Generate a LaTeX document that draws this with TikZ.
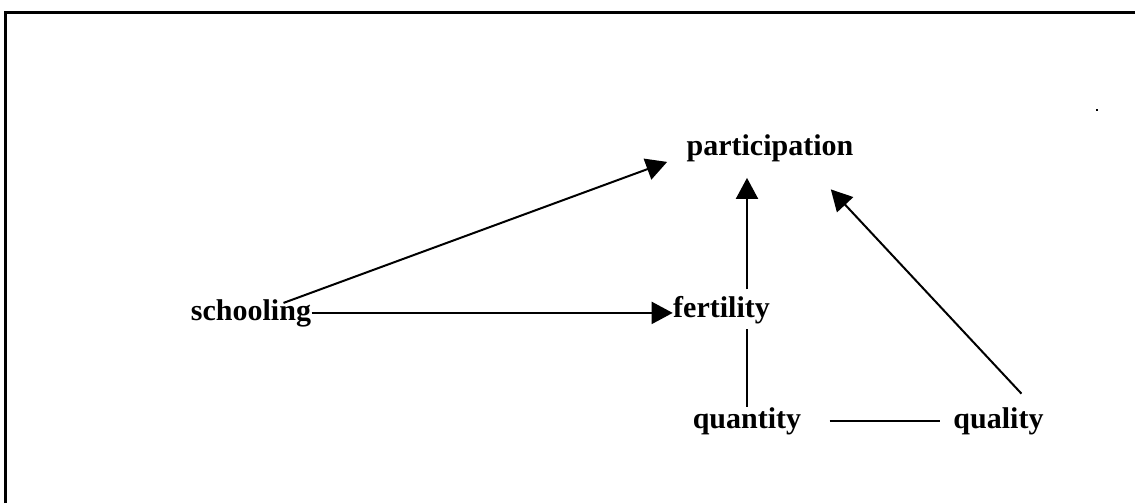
\documentclass[tikz,border=0pt]{standalone}
\usepackage{fontspec}
\setmainfont{Liberation Serif}
\usepackage{tikz}
\usetikzlibrary{arrows.meta, calc}
\tikzstyle{factor} = [inner sep=0pt, anchor=base,
    font=\bfseries\fontsize{12}{14}\selectfont]
\tikzstyle{link}   = [line width=0.8pt, draw=black]
\tikzstyle{arrow}  = [link, -{Triangle[length=8.4pt,width=8.8pt]}]

\begin{document}
\begin{tikzpicture}[x=0.4pt, y=-0.4pt]
    \useasboundingbox (0,0) rectangle (1135,503);
    \draw [line width=1.2pt] (5.5,503) -- (5.5,12) -- (1135,12);
    \fill (1096,109) rectangle (1098,111);

    \node (part)  [factor] at (770,155)   {participation};
    \node (school)[factor] at (251,320)   {schooling};
    \node (fert)  [factor] at (721.5,317) {fertility};
    \node (quant) [factor] at (747,428)   {quantity};
    \node (qual)  [factor] at (998.5,428) {quality};

    \draw [arrow] (school.east) -- (school.east -| fert.west);
    \draw [arrow] ($(school.east)+(-28,-10)$) -- ($(part.south west)+(-19,0)$);
    \draw [arrow] ($(quant.north |- fert.north)+(0,-6)$) -- ($(quant.north |- part.south)+(0,16)$);
    \draw [link]  (quant.north) -- ($(quant.north |- fert.south)+(0,5)$);
    \draw [link]  ($(quant.east)+(28,0)$) -- ($(quant.east -| qual.west)+(-13,0)$);
    \draw [arrow] ($(qual.north)+(23,-13)$) -- ($(part.south east)+(-23,27.5)$);
\end{tikzpicture}
\end{document}
